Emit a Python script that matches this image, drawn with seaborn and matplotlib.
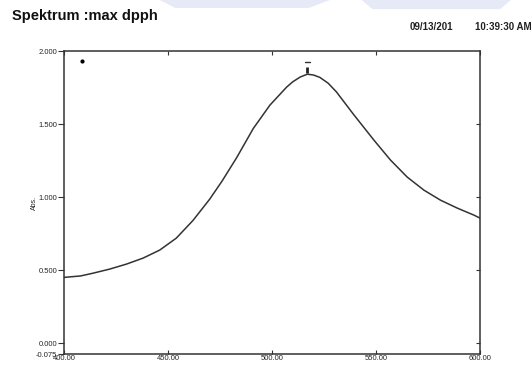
import matplotlib
matplotlib.use("Agg")
import matplotlib.pyplot as plt
from matplotlib.patches import Polygon
import pandas as pd
import seaborn as sns

# values
wavelength = [400, 408, 414, 422, 430, 438, 446, 454, 462, 470, 476, 483, 491, 499,
              507, 510, 513.5, 517, 520, 523, 527, 531, 539, 549, 557, 565, 573,
              581, 589, 597, 600]
absorbance = [0.450, 0.460, 0.479, 0.507, 0.541, 0.582, 0.637, 0.719, 0.840, 0.985,
              1.110, 1.270, 1.470, 1.630, 1.753, 1.790, 1.822, 1.842, 1.836, 1.820,
              1.780, 1.720, 1.570, 1.390, 1.253, 1.137, 1.048, 0.979, 0.925, 0.877,
              0.856]
x_ticks = [400, 450, 500, 550, 600]
y_ticks = [-0.075, 0.0, 0.5, 1.0, 1.5, 2.0]
stray_dot = (408.5, 1.93)

df = pd.DataFrame({"nm": wavelength, "abs": absorbance})

sns.set_style("ticks")
plt.rcParams["font.family"] = ["Liberation Sans", "DejaVu Sans"]

fig = plt.figure(figsize=(5.32, 3.65), dpi=100)

# faint watermark shapes along the top edge of the scan
for pts in ([(0.30, 1.0), (0.62, 1.0), (0.58, 0.978), (0.33, 0.978)],
            [(0.68, 1.0), (0.96, 1.0), (0.94, 0.975), (0.70, 0.975)]):
    fig.patches.append(Polygon(pts, closed=True, transform=fig.transFigure,
                               facecolor="#e6e9f6", edgecolor="none", zorder=0))

ax = fig.add_axes([0.1203, 0.030, 0.782, 0.830])

sns.lineplot(data=df, x="nm", y="abs", ax=ax, color="#333333", linewidth=1.1,
             sort=False, estimator=None)

# peak pick marker
peak = df.loc[df["abs"].idxmax()]
ax.plot([peak["nm"], peak["nm"]], [peak["abs"] + 0.005, peak["abs"] + 0.05],
        color="#222222", linewidth=2.0, solid_capstyle="butt")
ax.plot([peak["nm"] - 1.2, peak["nm"] + 1.2], [peak["abs"] + 0.085] * 2,
        color="#333333", linewidth=1.0)
ax.plot(*stray_dot, "o", color="black", markersize=2)

ax.set_xlim(400, 600)
ax.set_ylim(-0.075, 2.0)
ax.set_xticks(x_ticks)
ax.set_xticklabels(["%.2f" % t for t in x_ticks])
ax.set_yticks(y_ticks)
ax.set_yticklabels(["%.3f" % t for t in y_ticks])
ax.tick_params(axis="x", direction="in", length=3, labelsize=5.5, pad=1, top=True,
               color="#333333")
ax.tick_params(axis="y", direction="out", length=4, labelsize=5.5, pad=1,
               color="#333333")
ax.set_xlabel("")
ax.set_ylabel("Abs.", fontsize=5)
ax.yaxis.set_label_coords(-0.062, 0.5)
for s in ax.spines.values():
    s.set_visible(True)
    s.set_linewidth(1.1)
    s.set_color("#333333")

# inward ticks on right spine
ax2 = ax.secondary_yaxis("right")
ax2.set_yticks([0.0, 0.5, 1.0, 1.5])
ax2.set_yticklabels([])
ax2.tick_params(direction="in", length=3, color="#333333")
ax2.spines["right"].set_visible(False)

fig.text(0.022, 0.955, "Spektrum :max dpph", fontsize=10.5, fontweight="bold",
         ha="left", va="center", color="#111111")
fig.text(0.770, 0.925, "09/13/201", fontsize=7, fontweight="bold",
         ha="left", va="center", color="#222222")
fig.text(0.999, 0.925, "10:39:30 AM", fontsize=7, fontweight="bold",
         ha="right", va="center", color="#222222")

fig.savefig("out.png", dpi=100)
